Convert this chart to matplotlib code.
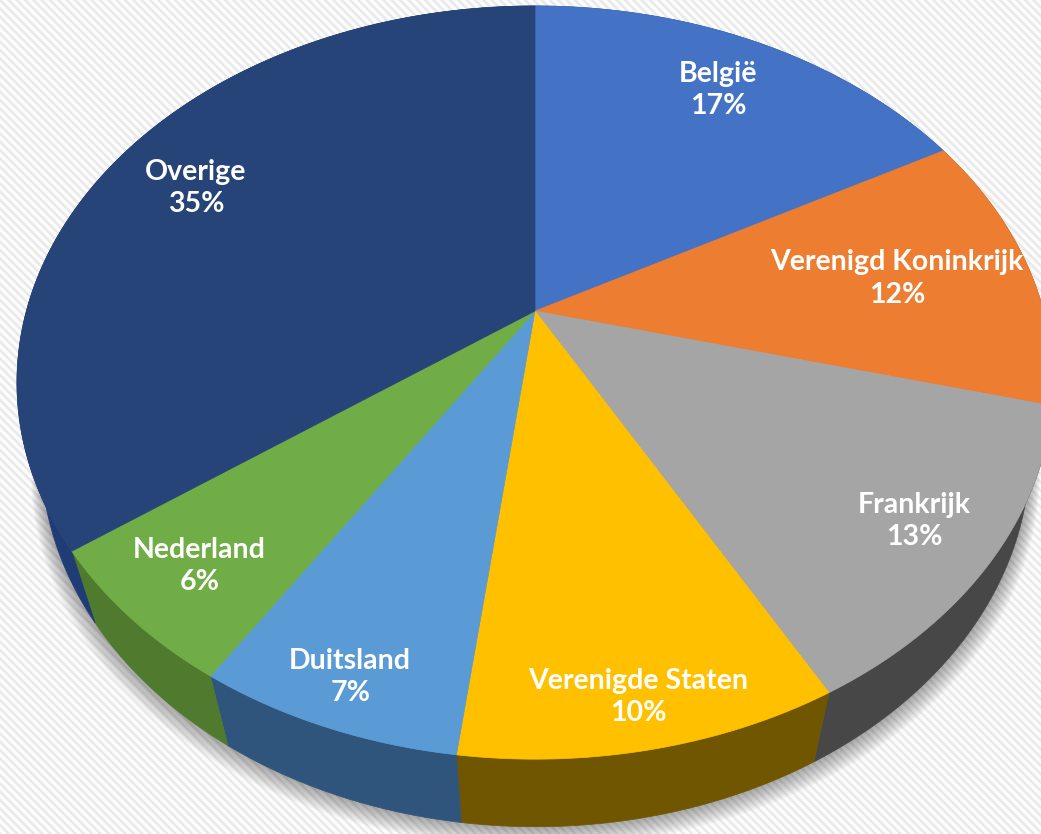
import numpy as np
import matplotlib
matplotlib.use('Agg')
import matplotlib.pyplot as plt
from matplotlib.patches import Polygon, Rectangle

# data
countries = ['België', 'Verenigd Koninkrijk', 'Frankrijk', 'Verenigde Staten',
             'Duitsland', 'Nederland', 'Overige']
shares = [17, 12, 13, 10, 7, 6, 35]

# styles
top_colors = ['#4472c4', '#ed7d31', '#a5a5a5', '#ffc000', '#5b9bd5', '#70ad47', '#264478']
side_colors = ['#2f5597', '#a5561f', '#474747', '#705600', '#2f557d', '#507a2e', '#1f3d74']
label_r = [0.8, 0.73, 0.85, 0.9, 0.9, 0.85, 0.8]

# projection of the tilted disk (pixel space)
CX, CY = 535, 311
A, B, K = 508.6, 363.0, 0.19
VPX, VPY = 544, 2003   # vertical vanishing point
DEPTH = 0.044


def project(theta, r=1.0, bottom=False):
    u = r * np.sin(theta)
    v = -r * np.cos(theta)
    w = 1 - K * v
    x = CX + A * u / w
    y = CY + B * v / w
    if bottom:
        f = DEPTH / w
        x = x + f * (VPX - x)
        y = y + f * (VPY - y)
    return x, y


W, H = 1041, 834
fig = plt.figure(figsize=(W / 100, H / 100), dpi=100)
ax = fig.add_axes([0, 0, 1, 1])
ax.set_xlim(0, W)
ax.set_ylim(H, 0)
ax.axis('off')

plt.rcParams['hatch.linewidth'] = 1.8
ax.add_patch(Rectangle((0, 0), W, H, facecolor='#fcfcfc', edgecolor='#e9e9e9',
                       hatch='\\\\\\\\', lw=0, zorder=0))

frac = np.array(shares, dtype=float) / sum(shares)
edges = np.concatenate([[0], np.cumsum(frac)]) * 2 * np.pi

# soft shadow under the pie
tt = np.linspace(0, 2 * np.pi, 400)
bx, by = project(tt, bottom=True)
for i in range(10, 0, -1):
    ax.add_patch(Polygon(np.column_stack([CX + (bx - CX) * (1 + 0.002 * i), by + 2.0 * i]),
                         closed=True, facecolor='black', edgecolor='none',
                         alpha=0.035, zorder=1))

# side walls
for i in range(len(shares)):
    t = np.linspace(edges[i], edges[i + 1], 200)
    x1, y1 = project(t)
    x2, y2 = project(t[::-1], bottom=True)
    ax.add_patch(Polygon(np.column_stack([np.r_[x1, x2], np.r_[y1, y2]]), closed=True,
                         facecolor=side_colors[i], edgecolor=side_colors[i], lw=0.5, zorder=2))

# top faces
for i in range(len(shares)):
    t = np.linspace(edges[i], edges[i + 1], 200)
    x, y = project(t)
    ax.add_patch(Polygon(np.column_stack([np.r_[CX, x], np.r_[CY, y]]), closed=True,
                         facecolor=top_colors[i], edgecolor=top_colors[i], lw=0.5, zorder=3))

# labels
for i, (name, s) in enumerate(zip(countries, shares)):
    mid = (edges[i] + edges[i + 1]) / 2
    lx, ly = project(mid, label_r[i])
    ax.text(lx, ly, f'{name}\n{s}%', ha='center', va='center', color='white',
            fontsize=20.5, fontweight='bold', family='Lato', linespacing=1.3, zorder=4)

fig.savefig('out.png', dpi=100)
